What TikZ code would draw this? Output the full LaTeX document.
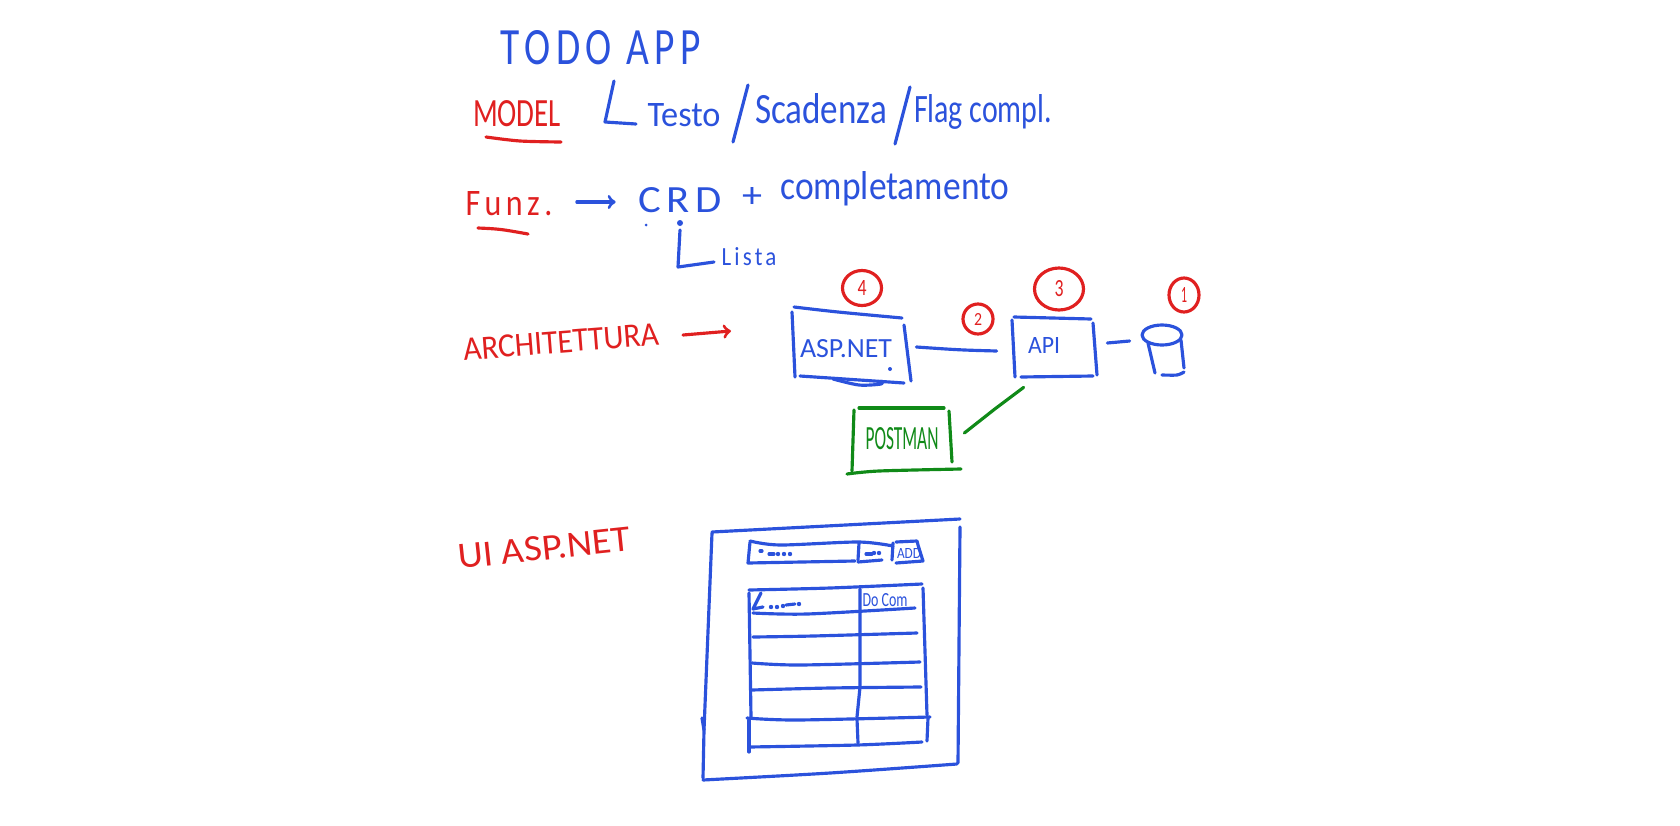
\documentclass[tikz,border=0pt]{standalone}
\usepackage{graphicx}
\usepackage{fontspec}
\setmainfont{Carlito}
\usetikzlibrary{calc,shapes.geometric}

\definecolor{penblue}{HTML}{2B52DC}
\definecolor{penred}{HTML}{E02020}
\definecolor{pengreen}{HTML}{108A18}

\newlength{\px}
\setlength{\px}{0.02cm}
\newcommand{\hw}[3]{\resizebox{#1\px}{#2\px}{#3}}
\newcommand{\spaced}[1]{{\addfontfeature{LetterSpace=14}#1}}

\tikzset{
    bluepen/.style={draw=penblue, line width=1.8pt, line cap=round, line join=round},
    redpen/.style={draw=penred, line width=1.8pt, line cap=round, line join=round},
    greenpen/.style={draw=pengreen, line width=1.8pt, line cap=round, line join=round},
    bluetext/.style={text=penblue, inner sep=0pt},
    redtext/.style={text=penred, inner sep=0pt},
    greentext/.style={text=pengreen, inner sep=0pt},
    badge/.style={ellipse, redpen, inner sep=0pt, text=penred},
    sketchbox/.style={inner sep=0pt, minimum width=#1},
}

\begin{document}
\begin{tikzpicture}[x=0.02cm, y=-0.02cm]
\useasboundingbox (0,0) rectangle (1680,825);

\node[bluetext] (title) at (601,48) {\hw{200}{34}{\spaced{TODO APP}}};

\node[redtext] (model) at (517,114) {\hw{88}{26}{MODEL}};
\draw[redpen] plot[smooth] coordinates {(486,137) (520,141) (561,142)};
\draw[bluepen] (614,81) -- (605,122) -- (636,124);
\node[bluetext] (testo) at (684,115) {\hw{73}{23}{Testo}};
\draw[bluepen] (748,85) -- (733,142);
\node[bluetext] (scadenza) at (821,109) {\hw{132}{30}{Scadenza}};
\draw[bluepen] (910,87) -- (895,144);
\node[bluetext] (flag) at (983,112) {\hw{138}{28}{Flag compl.}};

\node[redtext] (funz) at (509,204) {\hw{87}{24}{\spaced{Funz.}}};
\draw[redpen] (478,228) .. controls (500,229) .. (528,234);
\node[bluetext] (crd) at (680,200) {\hw{84}{25}{\spaced{CRD}}};
\draw[bluepen,->] (funz.east) ++(24,-2) -- ($(crd.west)+(-22,2)$);
\node[bluetext] (plus) at (752,197) {\hw{20}{20}{+}};
\node[bluetext] (compl) at (895,189) {\hw{229}{28}{completamento}};
\fill[penblue] (646,225) circle (1.5);
\fill[penblue] (680,223) circle (3);
\draw[bluepen] (680,230) -- (678,267) -- (714,262);
\node[bluetext] (lista) at (749,257) {\hw{55}{18}{\spaced{Lista}}};

\node[redtext, rotate=4.5] (arch) at (561,342) {\hw{196}{22}{ARCHITETTURA}};
\coordinate (archend) at (731,331);
\draw[redpen,->] (683,335) -- (archend);

% architecture boxes
\node[sketchbox=112\px, minimum height=64\px] (aspnet) at (851,346) {};
\node[bluetext] (asptext) at (846,349) {\hw{92}{18}{ASP.NET}};
\draw[bluepen] plot[smooth] coordinates {(794,307) (838,312) (902,318)};
\draw[bluepen] (792,312) -- (795,377);
\draw[bluepen] (904,325) -- (911,381);
\draw[bluepen] (800,376) -- (904,383);
\draw[bluepen] plot[smooth] coordinates {(833,379) (859,385) (881,384) (881,381)};
\fill[penblue] (890,369) circle (2);

\node[sketchbox=84\px, minimum height=60\px] (api) at (1054,348) {};
\node[bluetext] (apitext) at (1044,345) {\hw{32}{16}{API}};
\draw[bluepen] (1014,317) -- (1091,319);
\draw[bluepen] (1012,320) -- (1015,377);
\draw[bluepen] (1093,323) -- (1097,375);
\draw[bluepen] (1021,377) -- (1093,376);

\node[sketchbox=44\px, minimum height=50\px] (db) at (1165,350) {};
\draw[bluepen] (1162,335) ellipse (20 and 10);
\draw[bluepen] (1148,343) -- (1155,373);
\draw[bluepen] (1181,340) -- (1184,368);
\draw[bluepen] plot[smooth] coordinates {(1162,375) (1177,375) (1184,372)};

\node[sketchbox=100\px, minimum height=64\px] (postman) at (902,440) {};
\node[greentext] (posttext) at (902,439) {\hw{73}{22}{POSTMAN}};
\draw[greenpen] (859,408) -- (944,408);
\draw[greenpen] (854,410) -- (852,471);
\draw[greenpen] (949,411) -- (952,462);
\draw[greenpen] plot[smooth] coordinates {(847,474) (879,471) (961,469)};

\draw[bluepen] ($(aspnet.east)+(9,1)$) .. controls (960,350) .. ($(api.west)+(-15,3)$);
\draw[bluepen] ($(api.east)+(11,-5)$) -- ($(db.west)+(-13,-9)$);
\draw[greenpen] ($(api.south west)+(12,9)$) -- ($(api.south west)+(-16,30)$) -- ($(postman.east)+(12,-7)$);

\node[badge, minimum width=39\px, minimum height=35\px] (four) at (862,288) {\hw{9}{15}{4}};
\node[badge, minimum width=49\px, minimum height=42\px] (three) at (1059,289) {\hw{9}{16}{3}};
\node[badge, minimum width=30\px, minimum height=30\px] (two) at (978,319) {\hw{8}{12}{2}};
\node[badge, minimum width=30\px, minimum height=34\px] (one) at (1184,295) {\hw{6}{15}{1}};

\node[redtext, rotate=6] (uiasp) at (544,548) {\hw{173}{24}{UI ASP.NET}};

% page mock
\draw[bluepen] (712,532) -- (960,519);
\draw[bluepen] (702,718) -- (704,730);
\draw[bluepen] (712,533) -- (704,730) -- (703,778);
\draw[bluepen] (960,527) -- (958,763);
\draw[bluepen] plot[smooth] coordinates {(703,780) (830,773) (957,764)};

\draw[bluepen] plot[smooth] coordinates {(750,541) (780,545) (858,542) (893,546)};
\draw[bluepen] (750,542) -- (748,563) -- (855,561);
\draw[bluepen] (859,543) -- (858,560);
\draw[bluepen] (858,562) -- (882,560);
\draw[bluepen] (760,551) -- (762,551);
\draw[bluepen] (769,554) -- (774,554);
\foreach \a/\b in {778/554, 784/554, 790/554, 874/553, 879/553, 771/607, 777/607, 783/606, 799/604} {
    \fill[penblue] (\a,\b) circle (2.2);
}
\draw[bluepen] (866,554) -- (872,554);
\draw[bluepen] (893,543) -- (892,560);
\draw[bluepen] (896,542) -- (917,541) -- (918,545) -- (923,561) -- (896,563);
\node[bluetext] (add) at (909,553) {\hw{24}{10}{ADD}};

\draw[bluepen] plot[smooth] coordinates {(749,590) (830,588) (922,584)};
\draw[bluepen] (749,593) -- (751,717);
\draw[bluepen] (749,720) -- (749,752);
\draw[bluepen] (923,588) -- (927,715);
\draw[bluepen] (928,718) -- (927,741);
\draw[bluepen] (860,589) -- (860,687) -- (857,717);
\draw[bluepen] (857,719) -- (858,743);
\foreach \a/\b/\c/\d/\e/\f in {753/613/807/614/915/608, 753/637/813/636/917/633, 752/663/800/665/920/662, 752/690/830/688/921/687, 747/718/797/720/930/717, 749/747/857/745/922/742} {
    \draw[bluepen] plot[smooth] coordinates {(\a,\b) (\c,\d) (\e,\f)};
}
\draw[bluepen] (761,593) -- (753,609) -- (763,607);
\draw[bluepen] (786,605) -- (795,604);
\node[bluetext] (docom) at (885,600) {\hw{45}{13}{Do Com}};
\end{tikzpicture}
\end{document}
